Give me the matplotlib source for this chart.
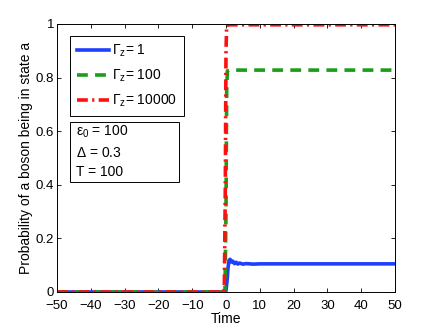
import matplotlib
matplotlib.use("Agg")
import matplotlib.pyplot as plt
from matplotlib.patches import Rectangle
import numpy as np

plt.rcParams['font.family'] = ['Liberation Sans', 'DejaVu Sans']
plt.rcParams['mathtext.fontset'] = 'custom'
plt.rcParams['mathtext.rm'] = 'Liberation Sans'
plt.rcParams['mathtext.it'] = 'Liberation Sans'

t_blue = [-50, -1, -0.3, 0, 0.3, 0.6, 0.9, 1.2, 1.6, 2.0, 2.5, 3.0, 3.5, 4.0, 5.0, 6.0, 8.0, 10, 50]
p_blue = [0, 0, 0.0, 0.005, 0.04, 0.09, 0.118, 0.122, 0.112, 0.115, 0.106, 0.111, 0.104, 0.108, 0.104, 0.106, 0.104, 0.105, 0.105]
t_green = [-50, -0.6, -0.3, 0.0, 0.2, 0.4, 1.0, 50]
p_green = [0, 0, 0.01, 0.3, 0.75, 0.825, 0.828, 0.828]
t_red = [-50, -0.8, -0.5, -0.2, 0.0, 0.2, 1.0, 50]
p_red = [0, 0, 0.01, 0.4, 0.9, 0.995, 0.997, 0.997]

labels = [r'$\Gamma_z$= 1', r'$\Gamma_z$= 100', r'$\Gamma_z$= 10000']
xticks = np.arange(-50, 51, 10)
xticklabels = ['\u221250', '\u221240', '\u221230', '\u221220', '\u221210', '0', '10', '20', '30', '40', '50']
yticks = [0, 0.2, 0.4, 0.6, 0.8, 1]
yticklabels = ['0', '0.2', '0.4', '0.6', '0.8', '1']

W, H = 436, 328
L, R, T, B = 57, 395, 24, 292
def fx(px):
    return (px - L) / (R - L)
def fy(py):
    return (B - py) / (B - T)

fig = plt.figure(figsize=(W / 100, H / 100), dpi=100)
ax = fig.add_axes([L / W, 1 - B / H, (R - L) / W, (B - T) / H])

ax.plot(t_blue, p_blue, color='#1f3fff', lw=2.6, label=labels[0])
ax.plot(t_green, p_green, color='#1a9e1a', lw=2.6, ls=(0, (3, 2)), label=labels[1])
ax.plot(t_red, p_red, color='#ff1010', lw=2.6, ls=(0, (3, 1.2, 0.6, 1.2)), label=labels[2])

ax.set_xlim(-50, 50)
ax.set_ylim(0, 1)
ax.set_xticks(xticks)
ax.set_xticklabels(xticklabels)
ax.set_yticks(yticks)
ax.set_yticklabels(yticklabels)
ax.tick_params(direction='in', top=True, right=True, labelsize=9.5, length=3, width=0.6)
ax.tick_params(axis='x', pad=5.5)
ax.tick_params(axis='y', pad=2)
for s in ax.spines.values():
    s.set_linewidth(0.7)
ax.set_xlabel('Time', fontsize=10, labelpad=0)
ax.set_ylabel('Probability of a boson being in state a', fontsize=10, labelpad=2)

leg = ax.legend(loc='upper left', bbox_to_anchor=(fx(70), fy(36)), fontsize=10,
                frameon=True, fancybox=False, edgecolor='black', handlelength=2.3,
                handletextpad=0.25, borderpad=0.5, labelspacing=0.6, borderaxespad=0,
                framealpha=1)
leg.get_frame().set_linewidth(0.7)

ax.add_patch(Rectangle((fx(70), fy(182)), fx(179) - fx(70), fy(122) - fy(182),
                       transform=ax.transAxes, fc='white', ec='black', lw=0.7, zorder=5))
ax.text(fx(76), fy(132), '$\\epsilon_0$ = 100', transform=ax.transAxes, fontsize=10,
        va='center', ha='left', zorder=6)
ax.text(fx(76), fy(153), '$\\Delta$ = 0.3', transform=ax.transAxes, fontsize=10,
        va='center', ha='left', zorder=6)
ax.text(fx(76), fy(172), 'T = 100', transform=ax.transAxes, fontsize=10,
        va='center', ha='left', zorder=6)

fig.savefig('out.png', dpi=100)
